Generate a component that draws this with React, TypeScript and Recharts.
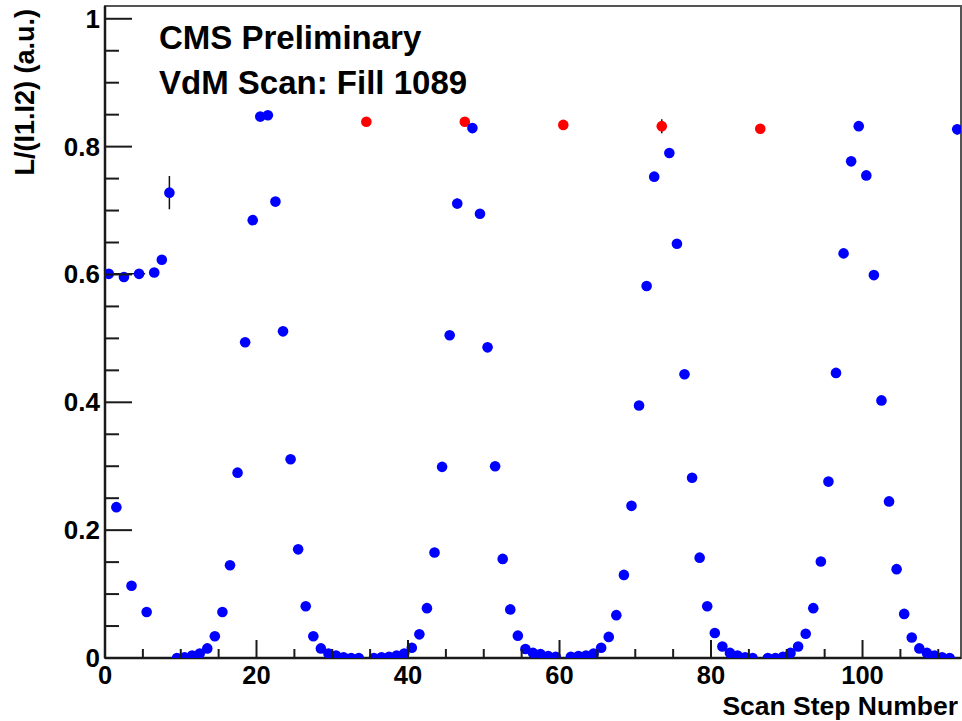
import { ErrorBar, ReferenceArea, Scatter, ScatterChart, XAxis, YAxis } from "recharts";

// luminosity normalised to the bunch currents, one entry per scan step
const stepValues = [
  0.601, 0.236, 0.596, 0.113, 0.601, 0.072, 0.603, 0.623, 0.728, 0.0,
  0.001, 0.004, 0.007, 0.015, 0.034, 0.072, 0.145, 0.29, 0.494, 0.685,
  0.847, 0.849, 0.714, 0.511, 0.311, 0.17, 0.081, 0.034, 0.015, 0.007,
  0.004, 0.001, 0.0, 0.0, 0.839, 0.0, 0.001, 0.002, 0.004, 0.007,
  0.016, 0.037, 0.078, 0.165, 0.299, 0.505, 0.711, 0.839, 0.829, 0.695,
  0.486, 0.3, 0.155, 0.076, 0.035, 0.014, 0.008, 0.006, 0.003, 0.002,
  0.834, 0.002, 0.003, 0.004, 0.007, 0.016, 0.033, 0.067, 0.13, 0.238,
  0.395, 0.582, 0.753, 0.832, 0.79, 0.648, 0.444, 0.282, 0.157, 0.081,
  0.039, 0.018, 0.008, 0.004, 0.001, 0.0, 0.828, 0.0, 0.0, 0.002,
  0.008, 0.018, 0.038, 0.078, 0.151, 0.276, 0.446, 0.633, 0.777, 0.832,
  0.755, 0.599, 0.403, 0.245, 0.139, 0.069, 0.032, 0.015, 0.008, 0.004,
  0.001, 0.0, 0.827,
];

// head-on reference steps taken between the scans (drawn red)
const referenceSteps = [34, 47, 60, 73, 86];

// [step, error] — only the visible ones
const yErrors: [number, number][] = [
  [0, 0.006], [8, 0.026], [20, 0.004], [21, 0.004], [46, 0.008],
  [47, 0.006], [73, 0.011], [112, 0.008],
];
const firstStepXError: [number, number] = [0.5, 4.8];

const xMajorTicks = [0, 20, 40, 60, 80, 100];
const xMinorTicks = [5, 10, 15, 25, 30, 35, 45, 50, 55, 65, 70, 75, 85, 90, 95, 105, 110];
const yMajorTicks = [0, 0.2, 0.4, 0.6, 0.8, 1];
const yMinorTicks = [0.05, 0.1, 0.15, 0.25, 0.3, 0.35, 0.45, 0.5, 0.55, 0.65, 0.7, 0.75, 0.85, 0.9, 0.95];

const FONT = "'Liberation Sans', Arial, Helvetica, sans-serif";
const AXIS = "#1a1a1a";

const points = stepValues.map((v, i) => {
  const err = yErrors.find(([s]) => s === i);
  return {
    x: i + 0.5,
    y: v,
    errY: err ? err[1] : 0,
    errX: i === 0 ? firstStepXError : 0,
    ref: referenceSteps.includes(i),
  };
});
const scanPoints = points.filter((p) => !p.ref);
const refPoints = points.filter((p) => p.ref);

const XTick = ({ x, y, payload }: any) => {
  const major = xMajorTicks.includes(payload.value);
  return (
    <g>
      <line x1={x} x2={x} y1={y} y2={y - (major ? 18 : 9)} stroke={AXIS} strokeWidth={2} />
      {major && (
        <text x={x} y={y + 26} textAnchor="middle" fontFamily={FONT} fontWeight="bold" fontSize={25.5} fill="#000">
          {payload.value}
        </text>
      )}
    </g>
  );
};

const YTick = ({ x, y, payload }: any) => {
  const major = yMajorTicks.includes(payload.value);
  return (
    <g>
      <line x1={x} x2={x + (major ? 27 : 14)} y1={y} y2={y} stroke={AXIS} strokeWidth={2} />
      {major && (
        <text x={x - 5} y={y + 9} textAnchor="end" fontFamily={FONT} fontWeight="bold" fontSize={26} fill="#000">
          {payload.value}
        </text>
      )}
    </g>
  );
};

const marker = (color: string) => (props: any) => <circle cx={props.cx} cy={props.cy} r={5.3} fill={color} />;

export default function App() {
  return (
    <div style={{ position: "absolute", left: 0, top: 0, width: 962, height: 721, background: "#fff" }}>
      <ScatterChart width={962} height={721} margin={{ top: 6, right: 1, bottom: 0, left: 0 }}>
        <ReferenceArea
          x1={0}
          x2={113}
          y1={0}
          y2={1.02}
          fill="none"
          stroke="#555"
          strokeWidth={2}
          ifOverflow="visible"
          label={{
            content: ({ viewBox }: any) => (
              <g fontFamily={FONT} fontWeight="bold" fontSize={33} fill="#000">
                <text x={viewBox.x + 54} y={viewBox.y + 43}>CMS Preliminary</text>
                <text x={viewBox.x + 54} y={viewBox.y + 88}>VdM Scan: Fill 1089</text>
              </g>
            ),
          }}
        />
        <XAxis
          type="number"
          dataKey="x"
          domain={[0, 113]}
          ticks={[...xMajorTicks, ...xMinorTicks].sort((a, b) => a - b)}
          interval={0}
          height={63}
          tickSize={0}
          tickMargin={0}
          tickLine={false}
          axisLine={{ stroke: AXIS, strokeWidth: 2.5 }}
          tick={<XTick />}
          allowDataOverflow
          label={{
            content: ({ viewBox }: any) => (
              <text
                x={viewBox.x + viewBox.width - 3}
                y={viewBox.y + 57}
                textAnchor="end"
                fontFamily={FONT}
                fontWeight="bold"
                fontSize={26.5}
                fill="#000"
              >
                Scan Step Number
              </text>
            ),
          }}
        />
        <YAxis
          type="number"
          dataKey="y"
          domain={[0, 1.02]}
          ticks={[...yMajorTicks, ...yMinorTicks].sort((a, b) => a - b)}
          interval={0}
          width={105}
          tickSize={0}
          tickMargin={0}
          tickLine={false}
          axisLine={{ stroke: AXIS, strokeWidth: 2.5 }}
          tick={<YTick />}
          allowDataOverflow
          label={{
            content: () => (
              <text
                transform="translate(34, 9) rotate(-90)"
                textAnchor="end"
                fontFamily={FONT}
                fontWeight="bold"
                fontSize={27}
                fill="#000"
              >
                L/(I1.I2) (a.u.)
              </text>
            ),
          }}
        />
        <Scatter data={refPoints} shape={marker("#ff0000")} isAnimationActive={false}>
          <ErrorBar dataKey="errY" direction="y" width={0} stroke="#111" strokeWidth={1.5} />
        </Scatter>
        <Scatter data={scanPoints} shape={marker("#0000ff")} isAnimationActive={false}>
          <ErrorBar dataKey="errY" direction="y" width={0} stroke="#111" strokeWidth={1.5} />
          <ErrorBar dataKey="errX" direction="x" width={0} stroke="#111" strokeWidth={1.5} />
        </Scatter>
      </ScatterChart>
    </div>
  );
}
